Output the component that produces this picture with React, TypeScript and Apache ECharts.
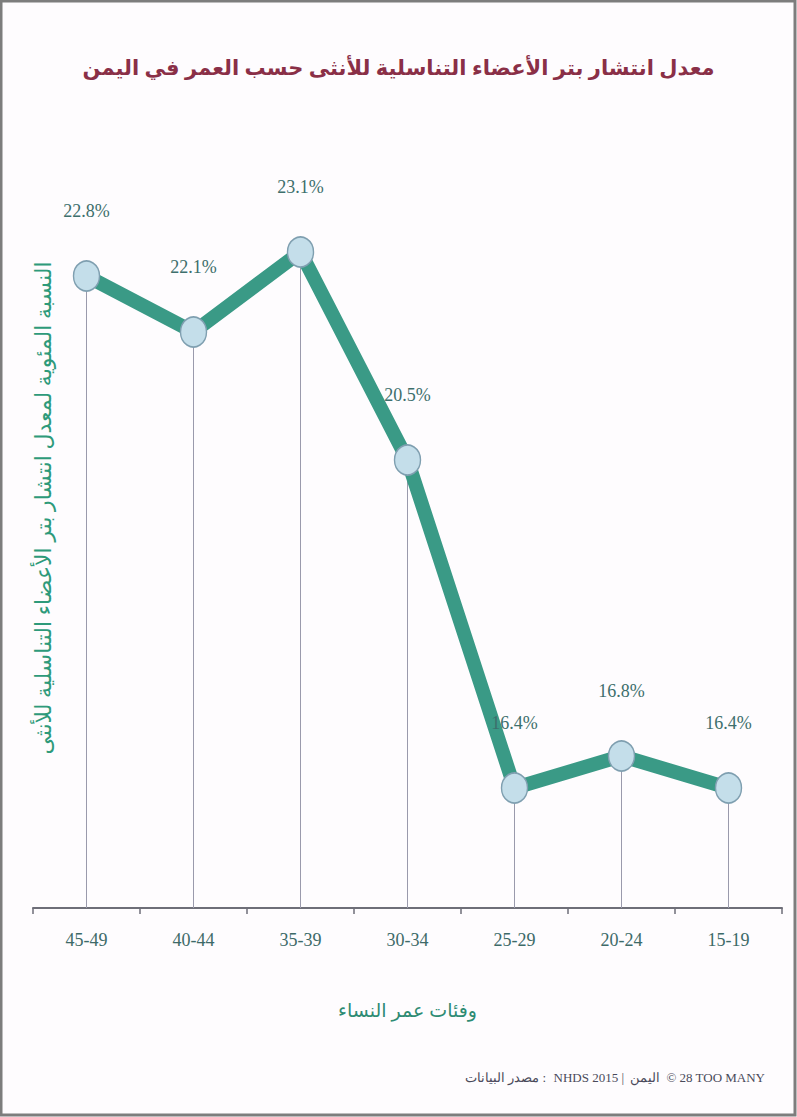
import React, { useEffect, useRef } from "react";
import * as echarts from "echarts";

const categories = ["45-49", "40-44", "35-39", "30-34", "25-29", "20-24", "15-19"];
const values = [22.8, 22.1, 23.1, 20.5, 16.4, 16.8, 16.4];
const titleText = "معدل انتشار بتر الأعضاء التناسلية للأنثى حسب العمر في اليمن";
const yAxisTitle = "النسبة المئوية لمعدل انتشار بتر الأعضاء التناسلية للأنثى";
const xAxisTitle = "وفئات عمر النساء";
const footerParts = ["مصدر البيانات :", "NHDS 2015 |", "اليمن", "© 28 TOO MANY"];

export default function App() {
  const ref = useRef<HTMLDivElement>(null);
  useEffect(() => {
    if (!ref.current) return;
    const chart = echarts.init(ref.current, null, { renderer: "svg" });
    const footStyle = { fill: "#4a4a5a", fontSize: 13, fontFamily: "Liberation Serif, serif" };
    const footRight = [546, 624, 660, 765];
    chart.setOption({
      animation: false,
      backgroundColor: "#fefcfe",
      title: {
        text: titleText,
        left: "center",
        top: 51,
        textStyle: { color: "#8a2f47", fontSize: 21, fontWeight: "bold", fontFamily: "Noto Sans, DejaVu Sans, sans-serif" },
      },
      grid: { left: 33, right: 15, top: 108, bottom: 1117 - 908 },
      xAxis: {
        type: "category",
        data: categories,
        boundaryGap: true,
        axisLine: { lineStyle: { color: "#6e6e78", width: 2 } },
        axisTick: { show: true, length: 6, inside: false, lineStyle: { color: "#6e6e78", width: 1.5 } },
        axisLabel: { color: "#3d6a68", fontSize: 18, fontFamily: "Liberation Serif, serif", margin: 23 },
        name: xAxisTitle,
        nameLocation: "middle",
        nameGap: 92,
        nameTextStyle: { color: "#2e8b73", fontSize: 19, fontFamily: "Noto Sans, DejaVu Sans, sans-serif" },
      },
      yAxis: {
        type: "value",
        min: 14.9,
        max: 24.9,
        show: true,
        axisLine: { show: false },
        axisTick: { show: false },
        axisLabel: { show: false },
        splitLine: { show: false },
        name: yAxisTitle,
        nameLocation: "middle",
        nameGap: -20,
        nameRotate: 90,
        nameTextStyle: { color: "#2e9a7a", fontSize: 22, fontFamily: "Noto Sans, DejaVu Sans, sans-serif" },
      },
      series: [
        {
          type: "bar",
          data: values,
          barWidth: 1,
          itemStyle: { color: "#9a9aac" },
          silent: true,
          z: 1,
        },
        {
          type: "line",
          data: values,
          symbol: "circle",
          symbolSize: [26, 30],
          lineStyle: { color: "#3a9a86", width: 14 },
          itemStyle: { color: "#c4deea", borderColor: "#7f9fb0", borderWidth: 1.5 },
          label: {
            show: true,
            position: "top",
            distance: 40,
            formatter: (p: any) => p.value + "%",
            color: "#3d6f6c",
            fontSize: 18,
            fontFamily: "Liberation Serif, serif",
          },
          z: 3,
        },
      ],
      graphic: [
        ...footerParts.map((t, i) => ({
          type: "text",
          x: footRight[i],
          y: 1077,
          style: { ...footStyle, text: t, align: "right", verticalAlign: "middle" },
          silent: true,
        })),
        {
          type: "rect",
          shape: { x: 1, y: 1, width: 794, height: 1114 },
          style: { fill: "none", stroke: "#7d7d7d", lineWidth: 3 },
          silent: true,
        },
      ],
    });
    return () => chart.dispose();
  }, []);
  return (
    <div
      ref={ref}
      style={{ position: "absolute", left: 0, top: 0, width: 797, height: 1117 }}
    />
  );
}
